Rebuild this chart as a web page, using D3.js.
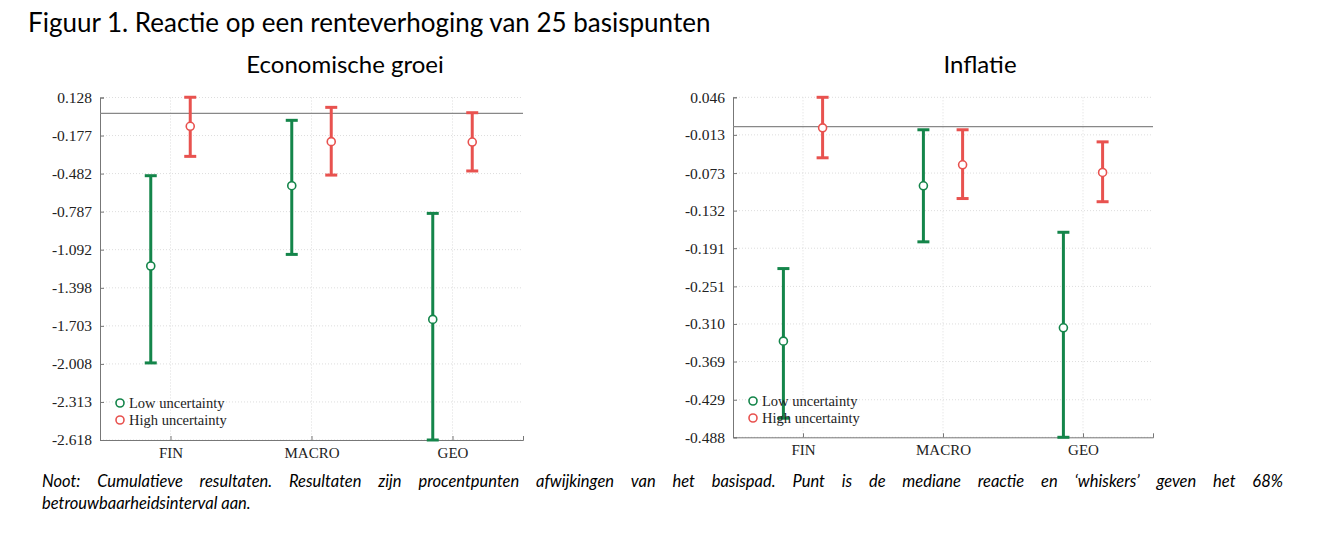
<!DOCTYPE html>
<html><head><meta charset="utf-8">
<script src="https://cdn.jsdelivr.net/npm/d3@7"></script>
<style>body{margin:0;background:#fff}</style></head>
<body><svg id="c" width="1320" height="552"></svg>
<script>
const categories = ["FIN","MACRO","GEO"];
const growthTicks = [0.128,-0.177,-0.482,-0.787,-1.092,-1.398,-1.703,-2.008,-2.313,-2.618];
const growthLowMed = [-1.223,-0.579,-1.651];
const growthLowUp = [-0.499,-0.055,-0.801];
const growthLowLo = [-2.00,-1.13,-2.618];
const growthHighMed = [-0.103,-0.226,-0.229];
const growthHighUp = [0.13,0.049,0.006];
const growthHighLo = [-0.344,-0.494,-0.461];
const inflTicks = [0.046,-0.013,-0.073,-0.132,-0.191,-0.251,-0.310,-0.369,-0.429,-0.488];
const inflLowMed = [-0.337,-0.093,-0.316];
const inflLowUp = [-0.223,-0.005,-0.166];
const inflLowLo = [-0.458,-0.181,-0.488];
const inflHighMed = [-0.002,-0.060,-0.072];
const inflHighUp = [0.046,-0.005,-0.024];
const inflHighLo = [-0.049,-0.113,-0.118];

const svg = d3.select("#c");
const GREEN = "#14854a", RED = "#e8524f";
const SANS = "Lato, 'Open Sans', sans-serif";
svg.append("text").attr("x",28).attr("y",32).attr("font-family",SANS).attr("font-size",26).attr("fill","#000").text("Figuur 1. Reactie op een renteverhoging van 25 basispunten");

function panel(o){
  const g = svg.append("g");
  const x = d3.scaleLinear().domain([0.5,3.5]).range([o.x0,o.x1]);
  const y = d3.scaleLinear().domain([o.ticks[o.ticks.length-1],o.ticks[0]]).range([o.y1,o.y0]);
  g.append("text").attr("x",o.tx).attr("y",73).attr("text-anchor","middle")
   .attr("font-family",SANS).attr("font-size",24).text(o.title);
  g.selectAll(".gh").data(o.ticks).join("line").attr("x1",o.x0).attr("x2",o.x1)
   .attr("y1",d=>y(d)).attr("y2",d=>y(d)).attr("stroke","#ddd").attr("stroke-dasharray","1,2");
  g.selectAll(".gv").data([1,2,3]).join("line").attr("y1",o.y0).attr("y2",o.y1)
   .attr("x1",d=>x(d)).attr("x2",d=>x(d)).attr("stroke","#ddd").attr("stroke-dasharray","1,2");
  const ya = d3.axisLeft(y).tickValues(o.ticks).tickFormat(d=>d3.format(".3f")(d).replace("−","-")).tickSize(-4);
  const yg = g.append("g").attr("transform",`translate(${o.x0},0)`).call(ya);
  yg.select(".domain").attr("stroke","#777");
  yg.selectAll(".tick line").attr("stroke","#777");
  yg.selectAll("text").attr("font-family","'Liberation Serif', serif").attr("font-size",15.5).attr("fill","#222").attr("x",-8);
  const xa = d3.axisBottom(x).tickValues([1,2,3]).tickFormat(d=>categories[d-1]).tickSize(-4);
  const xg = g.append("g").attr("transform",`translate(0,${o.y1})`).call(xa);
  xg.select(".domain").attr("stroke","#777");
  xg.selectAll(".tick line").attr("stroke","#777");
  xg.selectAll("text").attr("font-family","'Liberation Serif', serif").attr("font-size",15).attr("fill","#222").attr("y",7);
  g.append("line").attr("x1",o.x0).attr("x2",o.x1).attr("y1",y(0)).attr("y2",y(0)).attr("stroke","#888").attr("stroke-width",1.2);
  function series(med,up,lo,off,col){
    categories.forEach((c,i)=>{
      const cx = x(i+1+off);
      g.append("line").attr("x1",cx).attr("x2",cx).attr("y1",y(up[i])).attr("y2",y(lo[i])).attr("stroke",col).attr("stroke-width",3);
      [up[i],lo[i]].forEach(v=>g.append("line").attr("x1",cx-6).attr("x2",cx+6).attr("y1",y(v)).attr("y2",y(v)).attr("stroke",col).attr("stroke-width",3));
      g.append("circle").attr("cx",cx).attr("cy",y(med[i])).attr("r",4).attr("fill","#fff").attr("stroke",col).attr("stroke-width",1.6);
    });
  }
  series(o.lm,o.lu,o.ll,-0.14,GREEN);
  series(o.hm,o.hu,o.hl,0.14,RED);
  [["Low uncertainty",GREEN],["High uncertainty",RED]].forEach((d,i)=>{
    const ly = o.ly + i*17;
    g.append("circle").attr("cx",o.lx).attr("cy",ly).attr("r",4).attr("fill","#fff").attr("stroke",d[1]).attr("stroke-width",1.6);
    g.append("text").attr("x",o.lx+9).attr("y",ly+5).attr("font-family","'Liberation Serif', serif").attr("font-size",14.5).attr("fill","#222").text(d[0]);
  });
}
panel({title:"Economische groei",tx:345,x0:100,x1:523,y0:97.5,y1:440,ticks:growthTicks,
  lm:growthLowMed,lu:growthLowUp,ll:growthLowLo,hm:growthHighMed,hu:growthHighUp,hl:growthHighLo,lx:120,ly:403});
panel({title:"Inflatie",tx:980,x0:733,x1:1153,y0:97.3,y1:437.3,ticks:inflTicks,
  lm:inflLowMed,lu:inflLowUp,ll:inflLowLo,hm:inflHighMed,hu:inflHighUp,hl:inflHighLo,lx:753,ly:401});

const line1 = "Noot: Cumulatieve resultaten. Resultaten zijn procentpunten afwijkingen van het basispad. Punt is de mediane reactie en ‘whiskers’ geven het 68%".split(" ");
const FS = 16.5;
const widths = line1.map(w=>{const t=svg.append("text").attr("font-family",SANS).attr("font-size",FS).attr("font-style","italic").text(w);const b=t.node().getComputedTextLength();t.remove();return b;});
const L=42, R=1283;
const gap = (R-L-d3.sum(widths))/(line1.length-1);
let cx = L;
line1.forEach((w,i)=>{
  svg.append("text").attr("x",cx).attr("y",487).attr("font-family",SANS).attr("font-size",FS).attr("font-style","italic").text(w);
  cx += widths[i]+gap;
});
svg.append("text").attr("x",42).attr("y",509).attr("font-family",SANS).attr("font-size",FS).attr("font-style","italic").text("betrouwbaarheidsinterval aan.");
</script></body></html>
